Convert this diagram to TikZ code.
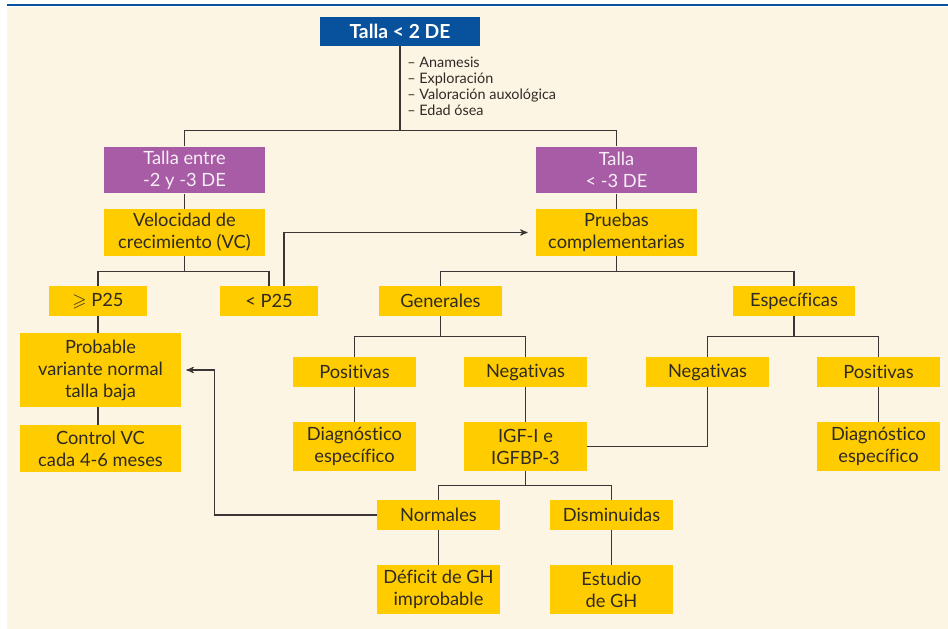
\documentclass[tikz,border=0pt]{standalone}
\usepackage{amssymb}
\usepackage{fontspec}
\setmainfont{Lato}[Ligatures=NoCommon]
\usepackage{tikz}
\usetikzlibrary{arrows}
\usetikzlibrary{calc}
\definecolor{cream}{HTML}{FDF5E4}
\definecolor{boxyellow}{HTML}{FFCC00}
\definecolor{boxpurple}{HTML}{A85CA5}
\definecolor{boxblue}{HTML}{08519D}
\definecolor{linegray}{HTML}{3B3636}
\definecolor{txtdark}{HTML}{2E2A25}
\tikzstyle{box} = [rectangle, inner sep=0pt, align=center, font=\fontsize{10.4}{12.5}\selectfont]
\tikzstyle{ybox} = [box, fill=boxyellow, text=txtdark]
\tikzstyle{pbox} = [box, fill=boxpurple, text=white!90!boxpurple]
\tikzstyle{topbox} = [box, fill=boxblue, text=white, minimum width=3.2cm, minimum height=0.58cm, font=\fontsize{11}{13}\selectfont\bfseries]
\tikzstyle{notes} = [inner sep=0pt, align=left, text=txtdark, font=\fontsize{8.2}{9.07}\selectfont]
\tikzstyle{widebox} = [minimum width=3.22cm, minimum height=0.94cm]
\tikzstyle{tallbox} = [minimum width=3.22cm, minimum height=1.48cm]
\tikzstyle{onebox} = [minimum width=2.46cm, minimum height=0.6cm]
\tikzstyle{twobox} = [minimum width=2.46cm, minimum height=0.98cm]
\tikzstyle{pcbox} = [minimum width=1.96cm, minimum height=0.6cm]
\tikzstyle{link} = [draw=linegray, line width=0.6pt]

\begin{document}
\begin{tikzpicture}[x=0.02cm, y=-0.02cm, >=stealth']
  \useasboundingbox (0,0) rectangle (948,629);
  \fill [cream] (7,7) rectangle (948,629);
  \draw [boxblue, line width=1.2pt] (7,5) -- (948,5);

  % cabecera
  \node [topbox, name=top] at (400,31.5) {Talla < 2 DE};
  \node [notes, name=notes, anchor=north west] at (407,57) {-- Anamesis\\-- Exploración\\-- Valoración auxológica\\-- Edad ósea};
  \node [pbox, widebox, name=entre] at (184.5,170) {Talla entre\\-2 y -3 DE};
  \node [pbox, widebox, name=menos] at (616.5,170) {Talla\\< -3 DE};
  \node [ybox, widebox, name=vc] at (184.5,232.5) {Velocidad de\\crecimiento (VC)};
  \node [ybox, widebox, name=pru] at (616.5,232.5) {Pruebas\\complementarias};

  % rama izquierda
  \node [ybox, pcbox, name=ge25] at (98,301) {$\geqslant$ P25};
  \node [ybox, pcbox, name=lt25] at (269,301) {< P25};
  \node [ybox, tallbox, name=prob] at (100.5,370) {Probable\\variante normal\\talla baja};
  \node [ybox, widebox, name=ctrl] at (100.5,448.5) {Control VC\\cada 4-6 meses};

  % rama derecha
  \node [ybox, onebox, name=gen] at (440.5,301) {Generales};
  \node [ybox, onebox, name=esp] at (794,301) {Específicas};
  \node [ybox, onebox, name=posL] at (354.5,372) {Positivas};
  \node [ybox, onebox, name=negL] at (525.5,372) {Negativas};
  \node [ybox, onebox, name=negR] at (707.5,372) {Negativas};
  \node [ybox, onebox, name=posR] at (878.5,372) {Positivas};
  \node [ybox, twobox, name=diagL] at (354.5,446.5) {Diagnóstico\\específico};
  \node [ybox, twobox, name=igf] at (525.5,446.5) {IGF-I e\\IGFBP-3};
  \node [ybox, twobox, name=diagR] at (878.5,446.5) {Diagnóstico\\específico};
  \node [ybox, onebox, name=norm] at (438.5,515) {Normales};
  \node [ybox, onebox, name=dism] at (611.5,515) {Disminuidas};
  \node [ybox, twobox, name=def] at (438.5,589.5) {Déficit de GH\\improbable};
  \node [ybox, twobox, name=est] at (611.5,589.5) {Estudio\\de GH};

  % conexiones
  \draw [link] (top.south) -- ++(0,85);
  \draw [link] (entre.north) -- ++(0,-16) -| (menos.north);
  \draw [link] (entre.south) -- (vc.north);
  \draw [link] (menos.south) -- (pru.north);
  \draw [link] (vc.south) -- ++(0,16);
  \draw [link] (ge25.north) -- ++(0,-14) -| (lt25.north);
  \draw [link,->,shorten >=0.16cm] ($(lt25.north)+(15,0)$) |- (pru.west);
  \draw [link] (ge25.south) -- (ge25.south |- prob.north);
  \draw [link] (prob.south -| ge25.south) -- (ge25.south |- ctrl.north);
  \draw [link] (pru.south) -- ++(0,16);
  \draw [link] (gen.north) -- ++(0,-14) -| (esp.north);
  \draw [link] (gen.south) -- ++(0,21);
  \draw [link] (posL.north) -- ++(0,-20) -| (negL.north);
  \draw [link] (esp.south) -- ++(0,21);
  \draw [link] (negR.north) -- ++(0,-20) -| (posR.north);
  \draw [link] (posL.south) -- (diagL.north);
  \draw [link] (negL.south) -- (igf.north);
  \draw [link] (posR.south) -- (diagR.north);
  \draw [link] (negR.south) |- (igf.east);
  \draw [link] (igf.south) -- ++(0,15);
  \draw [link] (norm.north) -- ++(0,-14) -| (dism.north);
  \draw [link] (norm.south) -- (def.north);
  \draw [link] (dism.south) -- (est.north);
  \draw [link,->,shorten >=0.1cm] (norm.west) -| ($(prob.east)+(33,0)$) -- (prob.east);
\end{tikzpicture}
\end{document}
